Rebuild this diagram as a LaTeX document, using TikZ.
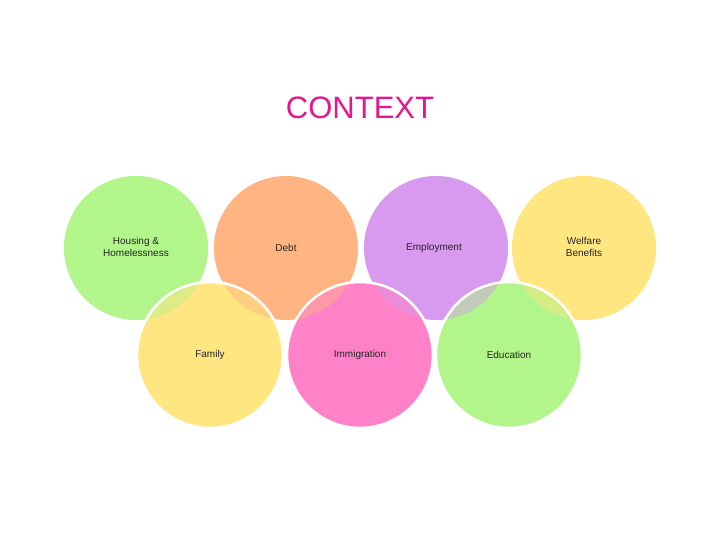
\documentclass[tikz,border=0pt]{standalone}
\usepackage{fontspec}
\setmainfont{Liberation Sans}
\definecolor{cgreen}{HTML}{B2F58A}
\definecolor{corange}{HTML}{FFB482}
\definecolor{cpurple}{HTML}{D79AEE}
\definecolor{cyellow}{HTML}{FFE680}
\definecolor{cpink}{HTML}{FF82C8}
\definecolor{cmag}{HTML}{E6168C}
\begin{document}
\begin{tikzpicture}[x=1pt,y=-1pt,lbl/.style={font=\fontsize{10}{12}\selectfont,align=center,text=black!85}]
\useasboundingbox[fill=white] (0,0) rectangle (720,540);
\node (title) at (360,108) {\fontsize{31}{36}\selectfont\color{cmag}CONTEXT};
% top row
\fill[cgreen] (136,248) circle (72);
\fill[corange] (286,248) circle (72);
\fill[cpurple] (436,248) circle (72);
\fill[cyellow] (584,248) circle (72);
% bottom row
\foreach \cx/\col in {210/cyellow,360/cpink,509/cgreen}{
  \fill[\col] (\cx,355) circle (72);
  \begin{scope}
    \clip (\cx,355) circle (72);
    \fill[cgreen,opacity=0.45] (136,248) circle (72);
    \fill[corange,opacity=0.45] (286,248) circle (72);
    \fill[cpurple,opacity=0.45] (436,248) circle (72);
    \fill[cyellow,opacity=0.45] (584,248) circle (72);
  \end{scope}
  \draw[white,line width=2.5pt] (\cx,355) circle (73);
}
\node[lbl] (housing) at (136,247) {Housing \&\\Homelessness};
\node[lbl] (debt) at (286,248) {Debt};
\node[lbl] (employment) at (434,248) {Employment};
\node[lbl] (welfare) at (584,247) {Welfare\\Benefits};
\node[lbl] (family) at (210,355) {Family};
\node[lbl] (immigration) at (360,355) {Immigration};
\node[lbl] (education) at (509,355) {Education};
\end{tikzpicture}
\end{document}
